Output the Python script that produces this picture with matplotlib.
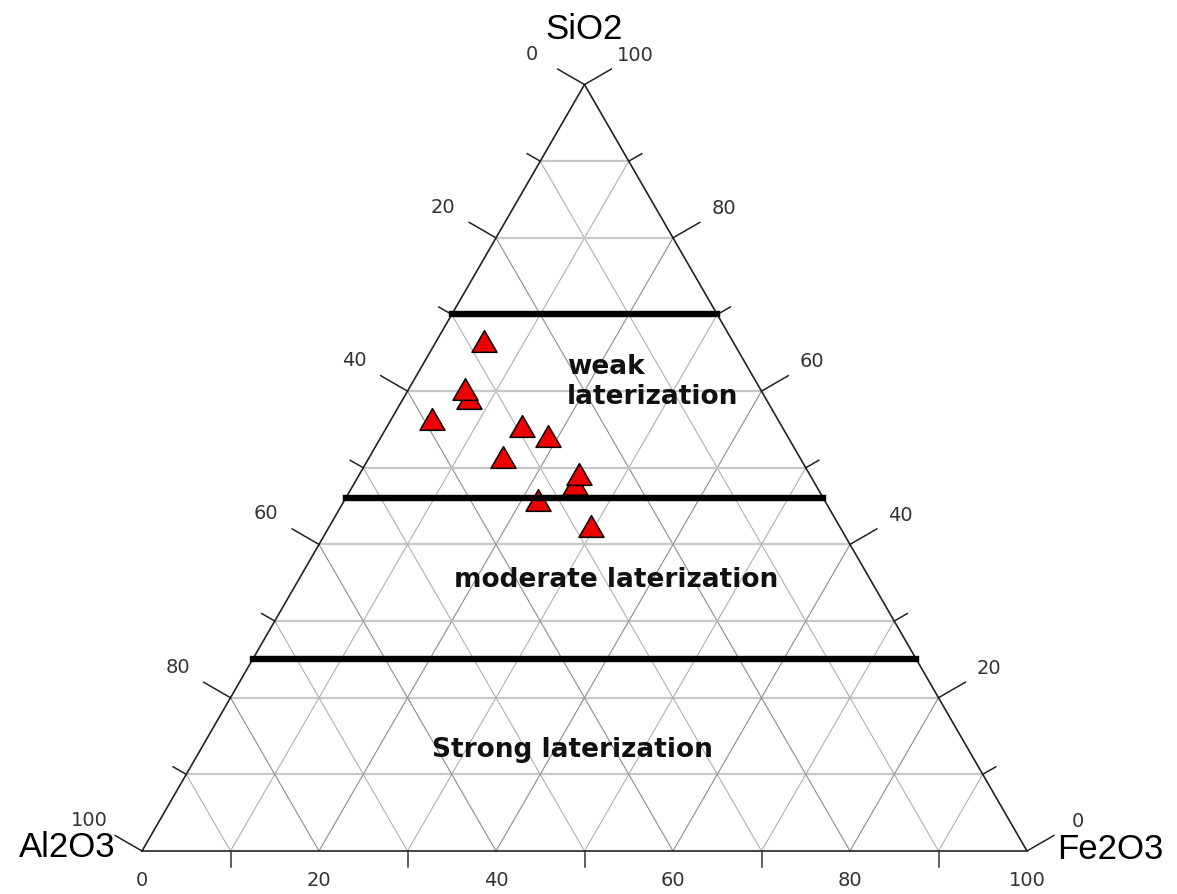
import numpy as np
import matplotlib
matplotlib.use('Agg')
import matplotlib.pyplot as plt
from matplotlib.path import Path

# sample compositions (wt %)
al2o3 = [28.1, 33.5, 33.3, 39.0, 29.3, 27.0, 33.5, 27.1, 26.0, 32.3, 28.1]
sio2 = [66.5, 59.1, 60.3, 56.4, 55.5, 54.2, 51.4, 47.9, 49.2, 45.8, 42.4]
fe2o3 = [5.4, 7.4, 6.4, 4.6, 15.2, 18.8, 15.1, 25.0, 24.8, 21.9, 29.5]

# SiO2 levels separating the lateritization classes
boundary_sio2 = [70, 46, 25]
zone_labels = ['weak\nlaterization', 'moderate laterization', 'Strong laterization']
tick_values = list(range(0, 101, 10))

H = np.sqrt(3) / 2


def tern(al, si, fe):
    t = al + si + fe
    return 100 * (fe + si / 2) / t, 100 * si * H / t


S = 8.85  # pixels per percent
fig = plt.figure(figsize=(11.77, 8.94), dpi=100)
ax = fig.add_axes([0, 0, 1, 1])
ax.set_xlim(-142 / S, (1177 - 142) / S)
ax.set_ylim(-43 / S, (894 - 43) / S)
ax.axis('off')

# grid
for k in range(10, 100, 10):
    x0, y0 = tern(100 - k, k, 0)
    x1, y1 = tern(0, k, 100 - k)
    ax.plot([x0, x1], [y0, y1], color='#c8c8c8', lw=1.6, zorder=1)
    dcol = '#8c8c8c' if k % 20 == 0 else '#b0b0b0'
    x0, y0 = tern(100 - k, 0, k)
    x1, y1 = tern(0, 100 - k, k)
    ax.plot([x0, x1], [y0, y1], color=dcol, lw=0.8, zorder=1)
    x0, y0 = tern(k, 0, 100 - k)
    x1, y1 = tern(k, 100 - k, 0)
    ax.plot([x0, x1], [y0, y1], color=dcol, lw=0.8, zorder=1)

# frame
corners = [tern(100, 0, 0), tern(0, 100, 0), tern(0, 0, 100), tern(100, 0, 0)]
ax.plot([c[0] for c in corners], [c[1] for c in corners], color='#222222', lw=1.2, zorder=2)

# ticks and tick labels
lab_kw = dict(fontsize=14, color='#333333', family=['DejaVu Sans'], ha='center', va='center')
for k in tick_values:
    major = k % 20 == 0
    L = 3.5 if major else 1.7
    # left edge: Al2O3
    x, y = tern(100 - k, k, 0)
    d = (-0.866, 0.5)
    ax.plot([x, x + L * d[0]], [y, y + L * d[1]], color='#222222', lw=1.1, zorder=2)
    if major:
        ax.text(x + 6.9 * d[0], y + 6.9 * d[1], str(100 - k), **lab_kw)
    # right edge: SiO2
    x, y = tern(0, k, 100 - k)
    d = (0.866, 0.5)
    ax.plot([x, x + L * d[0]], [y, y + L * d[1]], color='#222222', lw=1.1, zorder=2)
    if major:
        ax.text(x + 6.6 * d[0], y + 6.6 * d[1], str(k), **lab_kw)
    # bottom: Fe2O3
    x, y = tern(100 - k, 0, k)
    if major:
        ax.text(x, -3.3, str(k), **lab_kw)
    else:
        ax.plot([x, x], [y, y - 1.8], color='#333333', lw=1.1, zorder=2)

# corner names
name_kw = dict(fontsize=25, color='black', family=['Liberation Sans', 'DejaVu Sans'],
               ha='center', va='center')
ax.text(50.0, 92.8, 'SiO2', **name_kw)
ax.text(-8.4, 0.4, 'Al2O3', **name_kw)
ax.text(109.4, 0.2, 'Fe2O3', **name_kw)

# class boundaries
for b in boundary_sio2:
    x0, y0 = tern(100 - b, b, 0)
    x1, y1 = tern(0, b, 100 - b)
    ax.plot([x0, x1], [y0, y1], color='black', lw=4.6, solid_capstyle='projecting', zorder=4)

# zone labels
zkw = dict(fontsize=19, fontweight='bold', color='#111111', family=['DejaVu Sans'], va='center')
ax.text(48.0, 53.0, zone_labels[0], ha='left', linespacing=1.2, **zkw)
ax.text(53.6, 30.6, zone_labels[1], ha='center', **zkw)
ax.text(48.6, 11.4, zone_labels[2], ha='center', **zkw)

# samples
tri = Path([(-1, -H), (1, -H), (0, H), (-1, -H)], [Path.MOVETO, Path.LINETO, Path.LINETO, Path.CLOSEPOLY])
for a, s, f in zip(al2o3, sio2, fe2o3):
    x, y = tern(a, s, f)
    ax.plot(x, y, marker=tri, ms=18, mfc='#ee0000', mec='black', mew=1.1, ls='none', zorder=3)

fig.savefig('out.png', dpi=100)
